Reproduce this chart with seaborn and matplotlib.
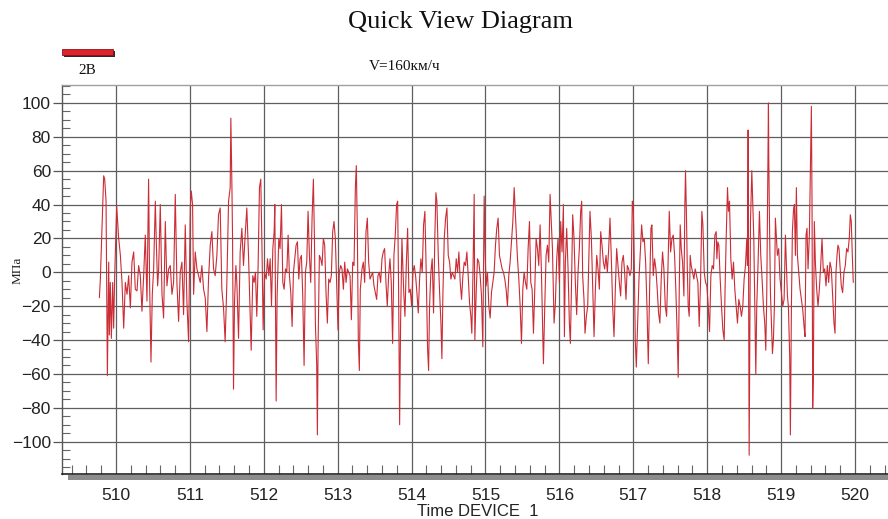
import numpy as np
import pandas as pd
import matplotlib
matplotlib.use("Agg")
import matplotlib.pyplot as plt
from matplotlib.patches import Rectangle
from matplotlib.ticker import MultipleLocator
import seaborn as sns

# ---------------- data ----------------
t1 = [509.775, 509.788, 509.833, 509.847, 509.865, 509.883, 509.901, 509.910, 509.923, 509.937,
      509.955, 509.968, 509.982, 510.009, 510.036, 510.059, 510.081, 510.104, 510.126, 510.149,
      510.171, 510.194, 510.216, 510.239, 510.261, 510.284, 510.306, 510.329, 510.351, 510.374,
      510.396, 510.419, 510.441, 510.455, 510.473, 510.491, 510.509, 510.532, 510.545, 510.563,
      510.577, 510.599, 510.622, 510.644, 510.667, 510.689, 510.712, 510.734, 510.757, 510.779,
      510.802, 510.824, 510.847, 510.869, 510.892, 510.914, 510.937, 510.959, 510.982, 511.005,
      511.018, 511.036, 511.050, 511.072, 511.095, 511.117, 511.140, 511.162, 511.185, 511.207,
      511.230, 511.252, 511.275, 511.297, 511.320, 511.342, 511.365, 511.387, 511.410, 511.432,
      511.455, 511.477, 511.500, 511.523, 511.545, 511.554, 511.568, 511.577, 511.590, 511.604,
      511.622, 511.635, 511.658, 511.680, 511.703, 511.725, 511.748, 511.770, 511.793]
v1 = [-15, -4, 57, 55, 42, -61, 6, -37, -6, -39,
      -6, -33, -2, 39, 20, 10, -6, -33, -6, -13,
      -2, -21, 6, 12, -10, -11, 4, -2, -23, -2,
      22, -17, 55, -8, -53, -13, 2, 42, 18, -8,
      2, 40, -13, -27, 30, -8, 2, 4, -13, -6,
      46, -6, -29, 0, 6, -25, 28, -17, -41, 38,
      48, 40, -13, 12, 2, -2, -6, 4, -10, -15,
      -35, -4, 16, 24, 2, -2, 10, 34, 38, -10,
      -21, -41, -6, 42, 50, 91, 52, 20, -69, -17,
      4, -6, -39, 12, 26, 4, 22, 38, 10]

t2 = [511.829, 511.851, 511.869, 511.887, 511.905, 511.923, 511.941, 511.959, 511.977, 511.991,
      512.009, 512.032, 512.050, 512.068, 512.086, 512.104, 512.122, 512.140, 512.149, 512.167,
      512.180, 512.203, 512.220, 512.239, 512.257, 512.275, 512.293, 512.311, 512.329, 512.347,
      512.365, 512.383, 512.401, 512.419, 512.437, 512.455, 512.473, 512.491, 512.509, 512.527,
      512.545, 512.563, 512.581, 512.599, 512.617, 512.635, 512.653, 512.671, 512.685, 512.698,
      512.716, 512.725, 512.734, 512.752, 512.770, 512.788, 512.806, 512.824, 512.842, 512.860,
      512.878, 512.896, 512.914, 512.932, 512.950, 512.968, 512.986, 513.004, 513.022, 513.040,
      513.058, 513.077, 513.095, 513.113, 513.131, 513.149, 513.167, 513.185, 513.203, 513.221,
      513.239, 513.252, 513.266, 513.279, 513.293, 513.306, 513.329, 513.347, 513.365, 513.383,
      513.401, 513.419, 513.437, 513.455, 513.473, 513.491, 513.509, 513.527, 513.545, 513.563,
      513.581, 513.599, 513.617, 513.635, 513.653, 513.671, 513.689, 513.707, 513.725, 513.743,
      513.761, 513.779, 513.797, 513.811, 513.824, 513.838, 513.851, 513.869]
v2 = [-46, -2, -6, 0, -26, 4, 50, 55, 10, -34,
      0, -4, 8, -2, 8, -20, 14, 24, 40, -76,
      -14, 20, 14, 40, -6, -10, 2, 0, 22, -2,
      -12, -32, 0, 8, 16, 18, -4, 8, 10, -14,
      -55, 0, 6, 36, 10, -6, 32, 55, 20, -30,
      -55, -96, -45, 10, 8, 4, 20, 16, -12, -30,
      -4, -6, -2, 24, 30, 20, -6, -34, 0, 4,
      2, -10, 6, -6, 2, 0, -2, -28, 6, 4,
      50, 63, 24, -40, -58, -10, 2, 6, -6, 24,
      32, 6, -4, -2, 0, -8, -12, -16, -2, 0,
      -6, 8, 12, 14, -6, -20, -2, 8, -6, -42,
      10, 22, 40, 42, -10, -90, -30, 20]

t3 = [513.892, 513.910, 513.928, 513.946, 513.964, 513.982, 514.000, 514.018, 514.036, 514.054,
      514.072, 514.090, 514.108, 514.126, 514.144, 514.162, 514.180, 514.198, 514.216, 514.230,
      514.243, 514.261, 514.279, 514.297, 514.315, 514.329, 514.342, 514.361, 514.379, 514.397,
      514.410, 514.424, 514.442, 514.460, 514.478, 514.496, 514.514, 514.532, 514.550, 514.568,
      514.586, 514.604, 514.622, 514.640, 514.658, 514.676, 514.694, 514.712, 514.730, 514.748,
      514.766, 514.784, 514.802, 514.815, 514.829, 514.847, 514.856, 514.874, 514.892, 514.910,
      514.928, 514.946, 514.964, 514.982, 514.996, 515.009, 515.027, 515.045, 515.063, 515.081,
      515.099, 515.117, 515.135, 515.153, 515.171, 515.189, 515.207, 515.225, 515.243, 515.261,
      515.279, 515.297, 515.315, 515.333, 515.351, 515.370, 515.388, 515.401, 515.415, 515.433,
      515.451, 515.469, 515.487, 515.505, 515.523, 515.541, 515.559, 515.577, 515.595, 515.613,
      515.631, 515.649, 515.667, 515.685, 515.703, 515.721, 515.739, 515.757, 515.775, 515.784,
      515.802, 515.820, 515.838, 515.856, 515.874, 515.888, 515.906, 515.928, 515.946]
v3 = [-10, -26, 4, 26, -12, -10, -20, 0, 4, -2,
      -12, -24, -4, 8, 0, 28, 36, 0, -45, -58,
      -20, 0, 8, -24, 22, 47, 42, 10, -12, -30,
      -51, -12, 20, 32, 38, 10, 6, -4, 0, -2,
      -4, 8, 0, 12, -6, -16, -2, 6, 4, 12,
      -2, -18, -26, -36, -4, 46, -40, -12, 8, 6,
      -2, -14, -44, 45, 10, -8, 0, -20, -27, -12,
      -6, 0, 16, 26, 32, 10, 6, 2, 0, -4,
      -10, -20, -2, 6, 18, 30, 50, 38, 24, 8,
      -4, -20, -42, -10, 0, -6, -10, 14, 30, -6,
      -10, -36, -10, 20, 14, 4, 28, 0, -38, -54,
      -20, 10, 16, 6, 46, 32, 14, -30, -18]

t4 = [515.964, 515.982, 516.000, 516.018, 516.036, 516.054, 516.068, 516.081, 516.099, 516.117,
      516.135, 516.149, 516.167, 516.180, 516.198, 516.216, 516.234, 516.252, 516.270, 516.288,
      516.302, 516.315, 516.333, 516.347, 516.365, 516.383, 516.396, 516.414, 516.433, 516.451,
      516.469, 516.487, 516.505, 516.523, 516.541, 516.559, 516.577, 516.595, 516.613, 516.631,
      516.649, 516.667, 516.685, 516.703, 516.721, 516.739, 516.757, 516.775, 516.793, 516.811,
      516.829, 516.847, 516.865, 516.883, 516.901, 516.919, 516.937, 516.955, 516.973, 516.987,
      517.000, 517.014, 517.027, 517.041, 517.059, 517.077, 517.095, 517.113, 517.131, 517.149,
      517.167, 517.185, 517.203, 517.221, 517.239, 517.252, 517.270, 517.288, 517.306, 517.324,
      517.342, 517.360, 517.378, 517.396, 517.414, 517.433, 517.451, 517.469, 517.487, 517.505,
      517.523, 517.541, 517.559, 517.577, 517.595, 517.608, 517.622, 517.635, 517.649, 517.667,
      517.685, 517.698, 517.707, 517.721, 517.730, 517.743, 517.757, 517.770, 517.784, 517.802,
      517.820, 517.838, 517.856, 517.874, 517.892, 517.910, 517.928, 517.942, 517.960, 517.978,
      517.996]
v4 = [8, 20, -6, 30, 12, 40, -38, 6, 26, 2,
      -30, -42, 0, 34, 20, -6, -25, 0, 14, 36,
      42, -2, -16, -36, -26, -20, 4, 36, 20, -10,
      -38, -10, 10, 2, -10, 24, 16, 6, 2, 10,
      0, 14, 32, 8, -20, -38, -10, 14, 4, -6,
      -14, 6, 10, 0, -16, 4, 2, -2, 2, 42,
      40, 4, -40, -56, -30, -4, 12, 28, 18, 20,
      6, -20, -54, -10, 26, 28, -2, 8, 2, -10,
      -24, -30, -4, 12, 2, -20, -26, 2, 36, 12,
      20, 22, 10, -12, -38, -62, -10, 28, 14, 6,
      -14, 40, 60, 30, 4, -20, -26, 10, 4, 0,
      -4, 2, -2, -6, -32, -6, 36, 28, 0, -6,
      -8]

t5 = [518.014, 518.032, 518.050, 518.068, 518.086, 518.104, 518.122, 518.131, 518.144, 518.158,
      518.176, 518.194, 518.212, 518.230, 518.243, 518.257, 518.275, 518.288, 518.302, 518.320,
      518.338, 518.356, 518.374, 518.392, 518.410, 518.428, 518.446, 518.464, 518.482, 518.500,
      518.518, 518.536, 518.545, 518.554, 518.568, 518.586, 518.604, 518.617, 518.631, 518.644,
      518.658, 518.671, 518.689, 518.707, 518.725, 518.743, 518.761, 518.779, 518.793, 518.806,
      518.815, 518.829, 518.833, 518.842, 518.856, 518.869, 518.883, 518.896, 518.910, 518.923,
      518.937, 518.950, 518.968, 518.986, 519.005, 519.023, 519.041, 519.059, 519.072, 519.086,
      519.099, 519.117, 519.126, 519.140, 519.153, 519.167, 519.180, 519.194, 519.207, 519.221,
      519.239, 519.257, 519.275, 519.293, 519.311, 519.324, 519.338, 519.351, 519.365, 519.383,
      519.396, 519.410, 519.419, 519.428, 519.437, 519.450, 519.464, 519.482, 519.500, 519.518,
      519.536, 519.554, 519.572, 519.590, 519.608, 519.626, 519.644, 519.662, 519.680, 519.698,
      519.716, 519.730, 519.743, 519.757, 519.770, 519.784, 519.797, 519.815, 519.833, 519.851,
      519.869, 519.887, 519.905, 519.923, 519.937, 519.950, 519.964, 519.977]
v5 = [-20, -35, -2, 4, 2, 22, 24, 8, 18, 16,
      -4, -20, -34, -40, -8, 20, 50, 36, 42, 8,
      -4, 6, -10, -20, -30, -16, -20, -26, -20, -4,
      4, 20, 4, 84, -108, 30, 60, 40, 20, -20,
      -60, -20, 6, 36, 10, -4, -20, -30, -46, -14,
      30, 100, 70, 34, -12, -30, -48, -40, -20, 32,
      20, 10, 14, -4, -12, -20, -16, 22, 4, -14,
      -20, -50, -96, -20, 24, 36, 40, 10, 50, 10,
      0, -10, -16, -22, -32, -38, 22, 26, 2, 22,
      60, 98, 40, -80, -60, 30, 6, -10, -20, -10,
      4, 20, 0, 2, -8, 4, -6, 6, 2, -14,
      -30, -36, 0, 10, 16, 14, 4, -8, -12, 0,
      4, 14, 12, 20, 34, 30, 10, -6]

series_label = "2B"
title_text = "Quick View Diagram"
subtitle_text = "V=160км/ч"
x_label = "Time DEVICE  1"
y_label = "МПа"

df = pd.DataFrame({"t": t1 + t2 + t3 + t4 + t5, "v": v1 + v2 + v3 + v4 + v5})

# ---------------- figure ----------------
sns.set_style("white")
plt.rcParams["font.family"] = ["Liberation Sans", "DejaVu Sans"]
SERIF = ["Liberation Serif", "DejaVu Serif"]

W, H = 888, 519
fig = plt.figure(figsize=(W / 100, H / 100), dpi=100)
fig.patch.set_facecolor("white")
ax = fig.add_axes([62 / W, 1 - 474 / H, 826 / W, 389 / H])

sns.lineplot(data=df, x="t", y="v", ax=ax, estimator=None, sort=False,
             color="#cb2c35", linewidth=0.8, zorder=3)

ax.set_xlim(509.269, 520.447)
ax.set_ylim(-119.1, 110.6)
ax.xaxis.set_major_locator(MultipleLocator(1))
ax.xaxis.set_minor_locator(MultipleLocator(0.2))
ax.yaxis.set_major_locator(MultipleLocator(20))
ax.yaxis.set_minor_locator(MultipleLocator(5))
ax.set_axisbelow(True)
ax.grid(which="major", color="#5e5e5e", linewidth=0.9)
ax.grid(which="minor", visible=False)

ax.tick_params(axis="x", which="major", direction="in", length=0, pad=10,
               labelsize=12.5, labelcolor="#222222")
ax.tick_params(axis="x", which="minor", direction="in", length=6.5, width=0.8,
               color="#666666", bottom=True)
ax.tick_params(axis="y", which="major", direction="out", length=6.5, width=0.9,
               pad=1.5, labelsize=12.5, color="#555555", labelcolor="#222222", left=True)
ax.tick_params(axis="y", which="minor", direction="in", length=5.5, width=0.8,
               color="#666666", left=True)

ax.spines["right"].set_visible(False)
ax.spines["top"].set_color("#a0a0a0")
ax.spines["top"].set_linewidth(1.0)
ax.spines["left"].set_color("#555555")
ax.spines["left"].set_linewidth(1.0)
ax.spines["bottom"].set_color("#222222")
ax.spines["bottom"].set_linewidth(1.2)

ax.set_xlabel(x_label, fontsize=12, color="#222222")
ax.xaxis.set_label_coords((478 - 62) / 826, (474 - 511) / 389)
ax.xaxis.label.set_va("center")
ax.set_ylabel(y_label, fontsize=9.5, family=SERIF, color="#222222")
ax.yaxis.set_label_coords((18 - 62) / 826, (474 - 270) / 389)
ax.yaxis.label.set_va("center")

# gray bar under the x axis
fig.add_artist(Rectangle((68 / W, 1 - 479.5 / H), 820 / W, 5 / H,
                         transform=fig.transFigure, facecolor="#8c8c8c",
                         edgecolor="none", zorder=1))

# titles
fig.suptitle(title_text, x=460 / W, y=1 - 22 / H, va="center", ha="center",
             fontsize=19, family=SERIF, color="#111111")
fig.text(405 / W, 1 - 66 / H, subtitle_text, ha="center", va="center",
         fontsize=11, family=SERIF, color="#111111")

# legend marker
fig.add_artist(Rectangle((63.5 / W, 1 - 56.5 / H), 51 / W, 6 / H,
                         transform=fig.transFigure, facecolor="#2a2a2a",
                         edgecolor="none"))
fig.add_artist(Rectangle((62 / W, 1 - 55 / H), 51 / W, 6 / H,
                         transform=fig.transFigure, facecolor="#e0232b",
                         edgecolor="#8a1418", linewidth=0.6))
fig.text(87 / W, 1 - 71 / H, series_label, ha="center", va="center",
         fontsize=11, family=SERIF, color="#111111")

fig.savefig("out.png", dpi=100, facecolor="white")
